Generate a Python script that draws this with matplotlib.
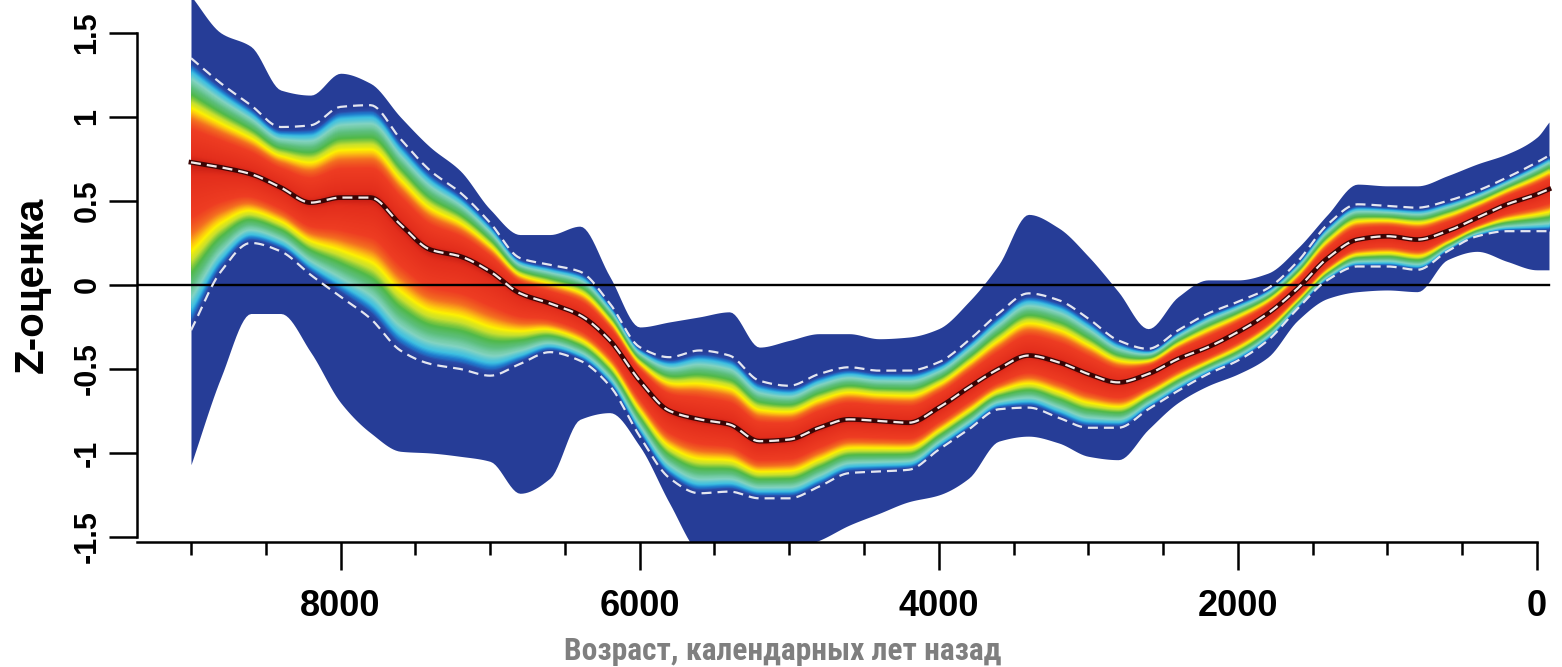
import numpy as np
import matplotlib
matplotlib.use("Agg")
import matplotlib.pyplot as plt
from matplotlib.colors import LinearSegmentedColormap

# ---- data (years BP, Z-score) ----
age = [9000, 8800, 8600, 8400, 8200, 8000, 7800, 7600, 7400, 7200, 7000, 6800,
       6600, 6400, 6200, 6000, 5800, 5600, 5400, 5200, 5000, 4800, 4600, 4400,
       4200, 4000, 3800, 3600, 3400, 3200, 3000, 2800, 2600, 2400, 2200, 2000,
       1800, 1600, 1400, 1200, 1000, 800, 600, 400, 200, 0, -80]

median = [0.73, 0.70, 0.66, 0.58, 0.49, 0.52, 0.52, 0.36, 0.21, 0.17, 0.08, -0.05,
          -0.11, -0.18, -0.33, -0.57, -0.75, -0.80, -0.83, -0.93, -0.92, -0.85, -0.80, -0.81,
          -0.82, -0.73, -0.61, -0.50, -0.42, -0.46, -0.53, -0.58, -0.53, -0.44, -0.37, -0.28,
          -0.17, -0.02, 0.16, 0.27, 0.29, 0.27, 0.32, 0.40, 0.48, 0.54, 0.57]

upper_ci = [1.35, 1.20, 1.07, 0.94, 0.95, 1.06, 1.07, 0.87, 0.68, 0.55, 0.37, 0.16,
            0.12, 0.08, -0.11, -0.37, -0.43, -0.39, -0.42, -0.57, -0.60, -0.53, -0.49, -0.51,
            -0.51, -0.46, -0.33, -0.17, -0.05, -0.09, -0.20, -0.33, -0.38, -0.27, -0.17, -0.10,
            -0.02, 0.14, 0.36, 0.48, 0.47, 0.46, 0.50, 0.56, 0.64, 0.73, 0.77]

lower_ci = [-0.27, 0.08, 0.25, 0.20, 0.06, -0.07, -0.20, -0.39, -0.47, -0.50, -0.54, -0.47,
            -0.40, -0.45, -0.60, -0.90, -1.15, -1.24, -1.23, -1.27, -1.27, -1.20, -1.12, -1.11,
            -1.10, -0.98, -0.86, -0.74, -0.73, -0.79, -0.85, -0.85, -0.74, -0.63, -0.53, -0.45,
            -0.33, -0.14, 0.03, 0.11, 0.11, 0.09, 0.20, 0.29, 0.32, 0.32, 0.32]

upper_max = [1.72, 1.50, 1.42, 1.16, 1.13, 1.26, 1.20, 1.00, 0.82, 0.68, 0.45, 0.30,
             0.30, 0.35, 0.05, -0.25, -0.22, -0.19, -0.16, -0.37, -0.33, -0.29, -0.29, -0.32,
             -0.31, -0.26, -0.10, 0.12, 0.42, 0.34, 0.17, -0.04, -0.26, -0.07, 0.03, 0.03,
             0.07, 0.22, 0.42, 0.60, 0.59, 0.59, 0.65, 0.72, 0.78, 0.88, 0.97]

lower_min = [-1.07, -0.55, -0.17, -0.17, -0.40, -0.70, -0.88, -0.99, -1.00, -1.02, -1.05, -1.24,
             -1.15, -0.80, -0.76, -0.96, -1.30, -1.60, -1.68, -1.63, -1.58, -1.52, -1.43, -1.36,
             -1.29, -1.25, -1.15, -0.93, -0.90, -0.94, -1.02, -1.04, -0.86, -0.70, -0.60, -0.53,
             -0.43, -0.21, -0.08, -0.04, -0.03, -0.04, 0.15, 0.20, 0.14, 0.09, 0.09]

x_major = [8000, 6000, 4000, 2000, 0]
x_major_labels = ["8000", "6000", "4000", "2000", "0"]
x_minor = [9000, 8500, 7500, 7000, 6500, 5500, 5000, 4500, 3500, 3000, 2500, 1500, 1000, 500]
y_ticks = [-1.5, -1.0, -0.5, 0.0, 0.5, 1.0, 1.5]
y_tick_labels = ["-1.5", "-1", "-0.5", "0", "0.5", "1", "1.5"]

x_label = "Возраст, календарных лет назад"
y_label = "Z-оценка"


def smooth_curve(x, y, n=12):
    """Monotone cubic (PCHIP) rendering of a curve through the given points."""
    x = np.asarray(x, float)
    y = np.asarray(y, float)
    h = np.diff(x)
    d = np.diff(y) / h
    k = np.zeros_like(y)
    for i in range(1, len(y) - 1):
        if d[i - 1] * d[i] > 0:
            w1 = 2 * h[i] + h[i - 1]
            w2 = h[i] + 2 * h[i - 1]
            k[i] = (w1 + w2) / (w1 / d[i - 1] + w2 / d[i])
    k[0] = d[0]
    k[-1] = d[-1]
    xs, ys = [], []
    for i in range(len(h)):
        t = np.linspace(0, 1, n, endpoint=False)
        h00 = 2 * t**3 - 3 * t**2 + 1
        h10 = t**3 - 2 * t**2 + t
        h01 = -2 * t**3 + 3 * t**2
        h11 = t**3 - t**2
        xs.append(x[i] + t * h[i])
        ys.append(h00 * y[i] + h10 * h[i] * k[i] + h01 * y[i + 1] + h11 * h[i] * k[i + 1])
    xs.append([x[-1]])
    ys.append([y[-1]])
    return np.concatenate(xs), np.concatenate(ys)


# ---- figure ----
W, H = 1562, 667
fig = plt.figure(figsize=(W / 100, H / 100), dpi=100)
ax = fig.add_axes([137 / W, (H - 541.5) / H, (W - 137) / W, 541.5 / H])
ax.set_xlim(9361, -167)
ax.set_ylim(-1.527, 1.696)

xs, m = smooth_curve(age, median)
_, hi = smooth_curve(age, upper_ci)
_, lo = smooth_curve(age, lower_ci)
_, omax = smooth_curve(age, upper_max)
_, omin = smooth_curve(age, lower_min)

DARK = "#263d97"
cmap = LinearSegmentedColormap.from_list("fan", [
    (0.00, "#c21a12"),
    (0.08, "#e32e1c"),
    (0.33, "#ee3d22"),
    (0.42, "#f36a21"),
    (0.48, "#fbb216"),
    (0.53, "#fff200"),
    (0.59, "#c6df2f"),
    (0.66, "#4fb848"),
    (0.73, "#5dbf7e"),
    (0.81, "#84d4c2"),
    (0.88, "#3cbfe2"),
    (0.92, "#1e7fd0"),
    (0.955, "#2a4aa8"),
    (1.00, DARK),
])

# outer envelope
ax.fill_between(xs, omin, omax, color=DARK, lw=0, zorder=1)

# gradient between the credible limits
levels = np.linspace(1.0, 0.0, 90, endpoint=False)
for t in levels:
    ax.fill_between(xs, m - t * (m - lo), m + t * (hi - m), color=cmap(t),
                    lw=0, zorder=2)

# zero line
ax.plot([9361, -80], [0, 0], color="black", lw=1.7, zorder=3)

# dashed lines
dash = (4.5, 2.7)
ax.plot(xs, hi, color="#e4e6f0", lw=1.6, dashes=dash, zorder=4)
ax.plot(xs, lo, color="#e4e6f0", lw=1.6, dashes=dash, zorder=4)
ax.plot(xs, m, color="#3a0505", lw=3.4, zorder=4)
ax.plot(xs, m, color="#f2eaea", lw=1.6, dashes=dash, zorder=5)

# axes styling (R-like)
for s in ["top", "right"]:
    ax.spines[s].set_visible(False)
ax.spines["left"].set_bounds(-1.5, 1.5)
ax.spines["bottom"].set_bounds(9361, 0)
for s in ["left", "bottom"]:
    ax.spines[s].set_linewidth(1.8)

tick_font = dict(family=["Liberation Sans", "DejaVu Sans"], weight="bold")
ax.set_xticks(x_major)
ax.set_xticklabels(x_major_labels, fontsize=26, **tick_font)
ax.set_xticks(x_minor, minor=True)
ax.set_yticks(y_ticks)
ax.set_yticklabels(y_tick_labels, fontsize=22, rotation=90, va="center", **tick_font)
ax.tick_params(axis="x", which="major", length=20, width=1.8, pad=14)
ax.tick_params(axis="x", which="minor", length=9, width=1.8)
ax.tick_params(axis="y", which="major", length=20, width=1.8, pad=5)

fig.text(32 / W, 1 - 285 / H, y_label, rotation=90, ha="center", va="center",
         fontsize=29, weight="bold", family=["Liberation Sans", "DejaVu Sans"])

fig.text(783 / W, 1 - 651 / H, x_label, ha="center", va="center",
         fontsize=22.7, weight="bold", color="#7f7f7f",
         family=["Roboto Condensed", "Liberation Sans Narrow", "Open Sans Condensed",
                 "Liberation Sans", "DejaVu Sans"], stretch="condensed")

fig.savefig("out.png", dpi=100)
